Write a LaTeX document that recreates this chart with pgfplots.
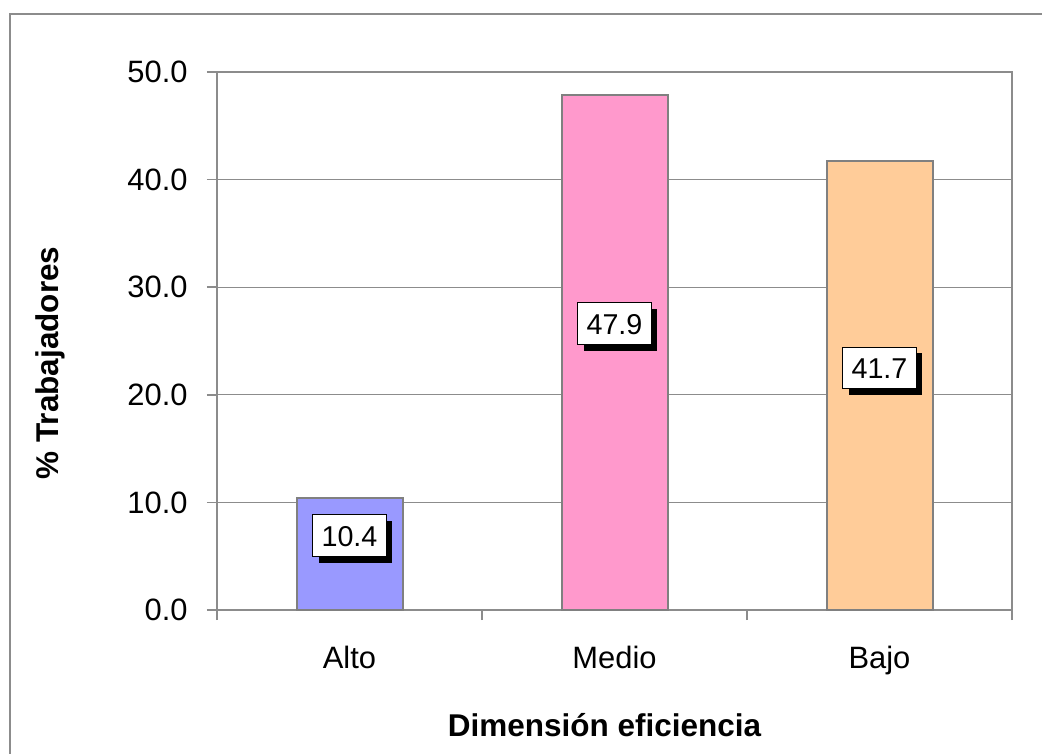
\documentclass[border=0pt]{standalone}
\usepackage{pgfplots}
\pgfplotsset{compat=1.18}
\usepackage{fontspec}
\setmainfont{Liberation Sans}
\usetikzlibrary{shadows}
\definecolor{framegray}{HTML}{8C8C8C}
\definecolor{gridgray}{HTML}{8C8C8C}
\definecolor{bargray}{HTML}{808080}
\definecolor{cAlto}{HTML}{9999FF}
\definecolor{cMedio}{HTML}{FF99CC}
\definecolor{cBajo}{HTML}{FFCC99}
\newcommand{\cf}{\fontsize{15.5}{18}\selectfont}
\newcommand{\lf}{\fontsize{15.8}{18}\selectfont}
\newcommand{\df}{\fontsize{14.4}{17}\selectfont}
\begin{document}
\begin{tikzpicture}
\path[use as bounding box] (0,0) rectangle (521bp,377bp);
\draw[framegray, line width=1bp] (5bp,-2bp) -- (5bp,370bp) -- (523bp,370bp);
\begin{axis}[
  at={(108.5bp,72bp)}, anchor=south west,
  scale only axis, width=397.5bp, height=269bp,
  xmin=-0.5, xmax=2.5, ymin=0, ymax=50,
  ytick={0,10,20,30,40,50},
  yticklabel style={/pgf/number format/fixed, /pgf/number format/fixed zerofill, /pgf/number format/precision=1},
  /pgf/number format/assume math mode=true,
  yticklabel style={anchor=east, inner sep=0pt, xshift=-9.5bp, font=\cf},
  xtick={0,1,2}, xticklabels={Alto,Medio,Bajo},
  xticklabel style={anchor=base, inner sep=0pt, yshift=-24bp, font=\cf},
  minor xtick={-0.5,0.5,1.5,2.5},
  tick align=outside, ytick pos=left, xtick pos=bottom,
  major tick length=5bp, minor tick length=5bp,
  major x tick style={draw=none},
  every tick/.style={gridgray, line width=0.75bp},
  minor tick style={gridgray, line width=0.75bp},
  ymajorgrids=true,
  grid style={gridgray, line width=0.6bp},
  axis line style={gridgray, line width=0.75bp},
  xlabel={\bfseries Dimensión eficiencia},
  ylabel={\bfseries \% Trabajadores},
  xlabel style={at={(axis description cs:0.4874,-0.236)}, anchor=base, inner sep=0pt, font=\lf},
  ylabel style={at={(axis description cs:-0.2,0.459)}, anchor=base, inner sep=0pt, font=\lf},
  clip=false,
]
\addplot[ybar, bar width=0.4, bar shift=0pt, fill=cAlto, draw=bargray, line width=1bp] coordinates {(0,10.4)};
\addplot[ybar, bar width=0.4, bar shift=0pt, fill=cMedio, draw=bargray, line width=1bp] coordinates {(1,47.9)};
\addplot[ybar, bar width=0.4, bar shift=0pt, fill=cBajo, draw=bargray, line width=1bp] coordinates {(2,41.7)};
\addplot[draw=none, mark=none, nodes near coords, point meta=explicit symbolic,
  every node near coord/.style={anchor=center, fill=white, draw=black, line width=0.5bp,
    inner xsep=4.5bp, inner ysep=5.3bp, text height=10.3bp, text depth=0pt, font=\df,
    drop shadow={shadow xshift=3bp, shadow yshift=-3bp, fill=black, opacity=1}}]
  coordinates {(0,6.9)[10.4] (1,26.6)[47.9] (2,22.5)[41.7]};
\end{axis}
\end{tikzpicture}
\end{document}
